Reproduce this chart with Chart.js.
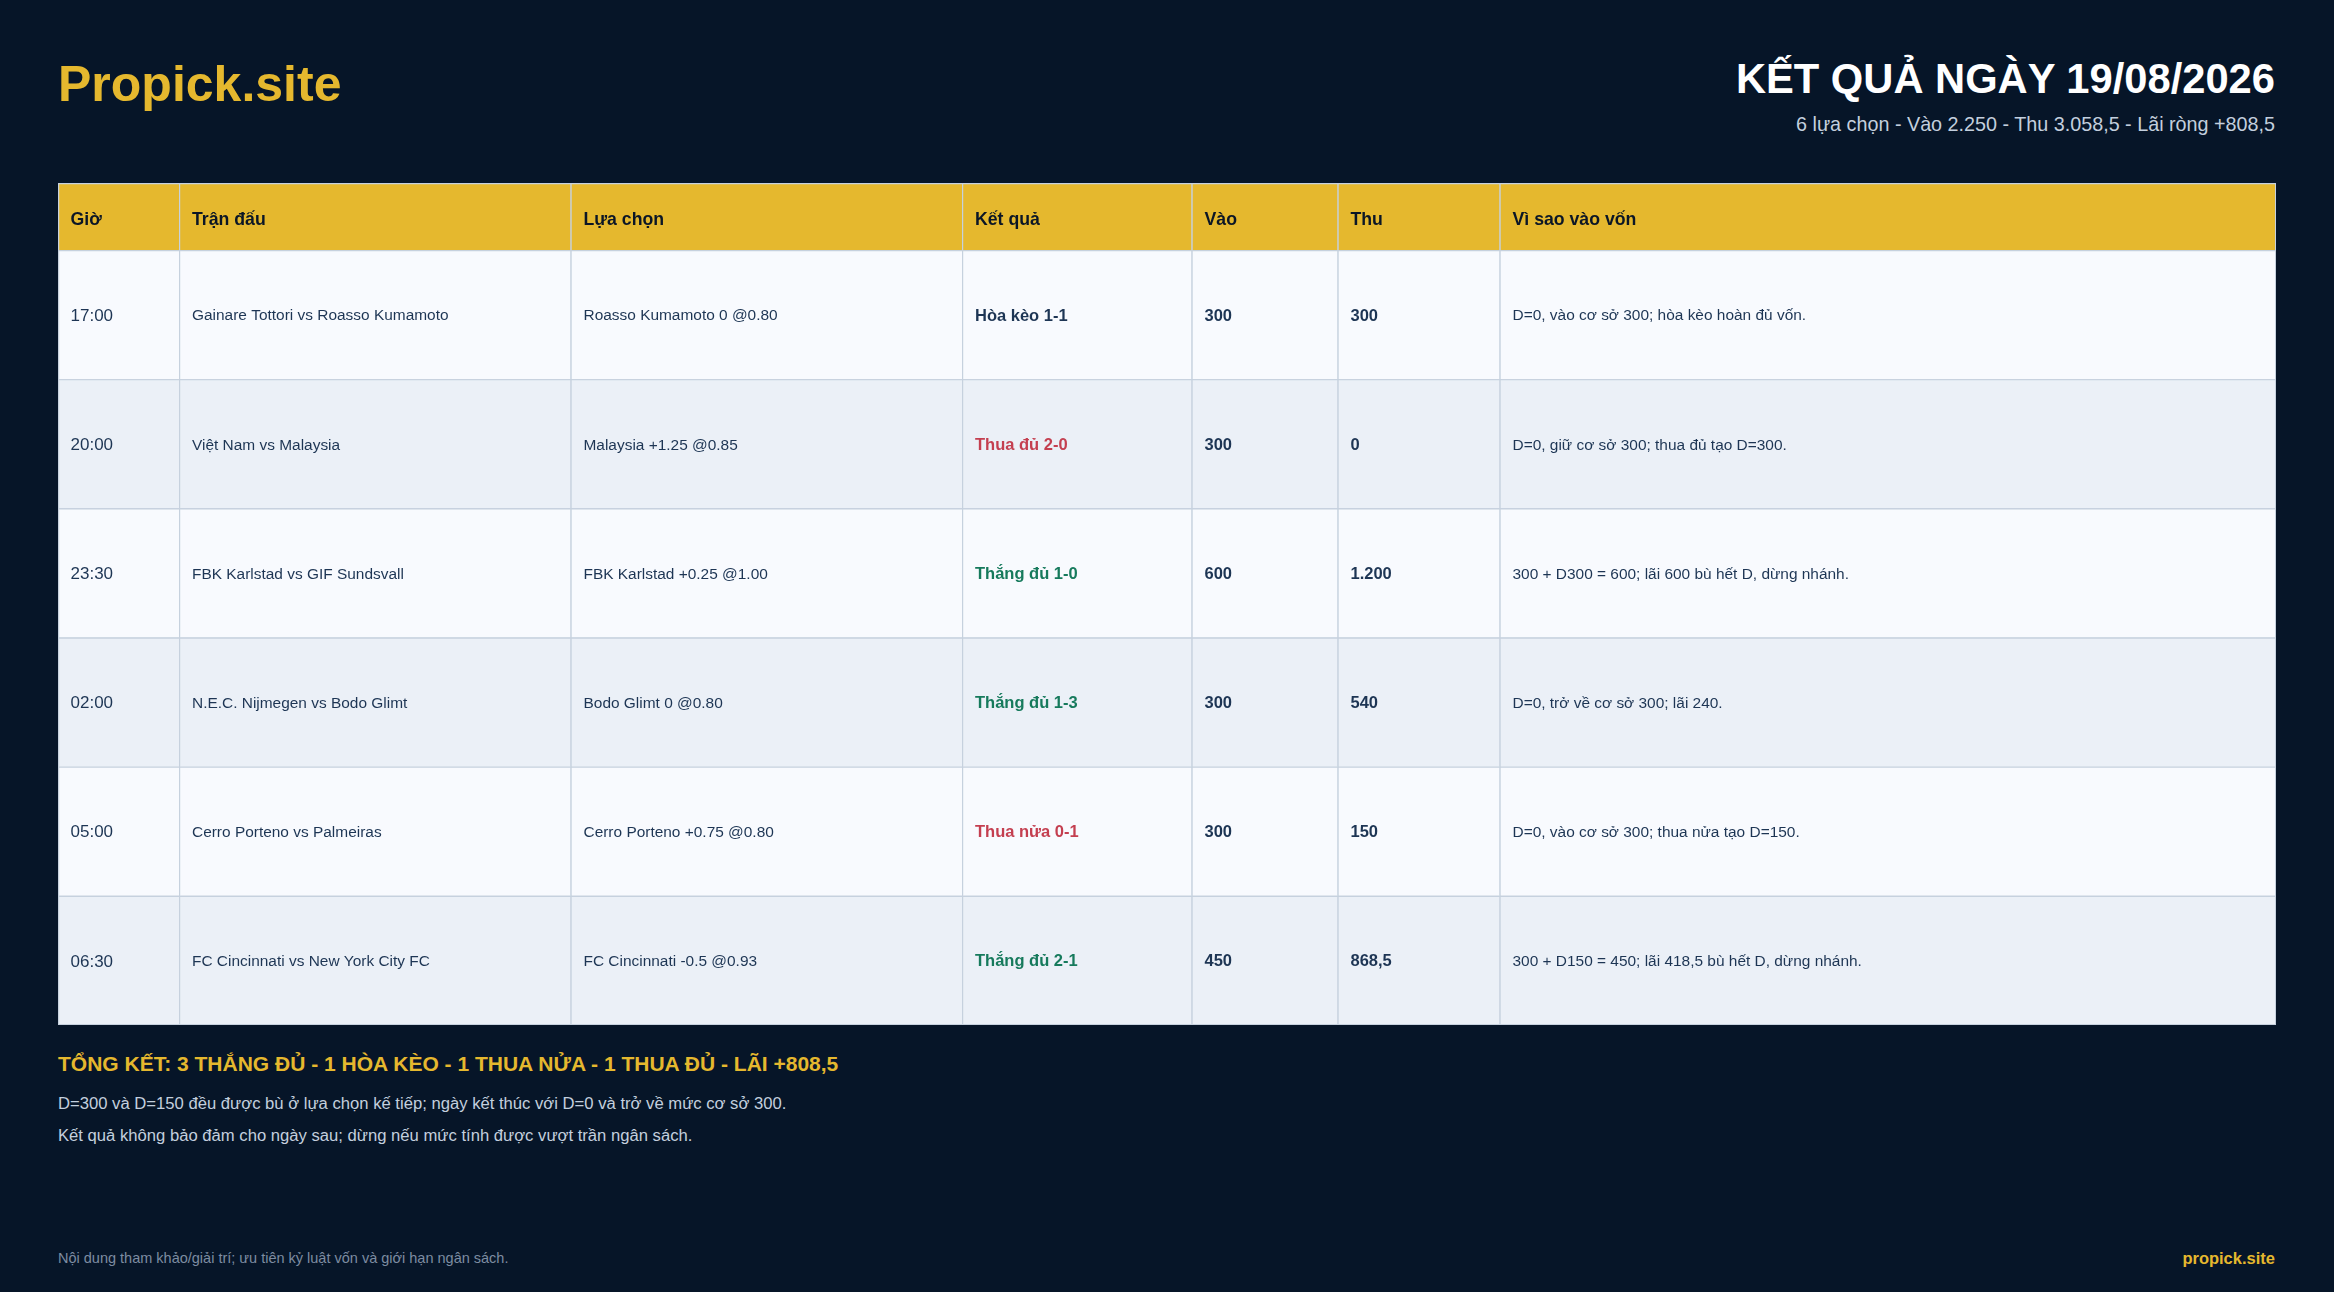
<!DOCTYPE html>
<html lang="vi">
<head>
<meta charset="utf-8">
<title>Propick.site</title>
<script src="https://cdn.jsdelivr.net/npm/chart.js@4"></script>
<style>
html,body{margin:0;padding:0;background:#061528;width:2334px;height:1292px;overflow:hidden;font-family:"Liberation Sans",Arial,sans-serif}
.t{position:absolute;white-space:nowrap;line-height:60px;height:60px}
.box{position:absolute;left:58px;width:2218px;background:#c6d1de}
canvas{position:absolute;display:block}
</style>
</head>
<body>
<div class="t" id="brand" style="left:58px;top:54px;font-size:50px;font-weight:700;color:#e5b82e"></div>
<div class="t" id="title" style="right:59px;top:49px;font-size:41.7px;font-weight:700;color:#fff"></div>
<div class="t" id="sub" style="right:59px;top:94px;font-size:19.75px;color:#c3cfde"></div>
<div class="box" style="top:183px;height:67px"><canvas id="head"></canvas></div>
<div class="box" style="top:250px;height:775px"><canvas id="body"></canvas></div>
<div class="t" id="sum" style="left:58px;top:1034px;font-size:21px;font-weight:700;color:#e5b82e"></div>
<div class="t" id="line1" style="left:58px;top:1074px;font-size:16.65px;color:#c3cfde"></div>
<div class="t" id="line2" style="left:58px;top:1106px;font-size:16.65px;color:#c3cfde"></div>
<div class="t" id="foot" style="left:58px;top:1228px;font-size:14.5px;color:#7d8ca1"></div>
<div class="t" id="site" style="right:59px;top:1228px;font-size:16.5px;font-weight:700;color:#e5b82e"></div>
<script>
// Table content
const headers=["Giờ","Trận đấu","Lựa chọn","Kết quả","Vào","Thu","Vì sao vào vốn"];
const times=["17:00","20:00","23:30","02:00","05:00","06:30"];
const matches=["Gainare Tottori vs Roasso Kumamoto","Việt Nam vs Malaysia","FBK Karlstad vs GIF Sundsvall","N.E.C. Nijmegen vs Bodo Glimt","Cerro Porteno vs Palmeiras","FC Cincinnati vs New York City FC"];
const picks=["Roasso Kumamoto 0 @0.80","Malaysia +1.25 @0.85","FBK Karlstad +0.25 @1.00","Bodo Glimt 0 @0.80","Cerro Porteno +0.75 @0.80","FC Cincinnati -0.5 @0.93"];
const results=["Hòa kèo 1-1","Thua đủ 2-0","Thắng đủ 1-0","Thắng đủ 1-3","Thua nửa 0-1","Thắng đủ 2-1"];
const stakes=[300,300,600,300,300,450];
const returns=[300,0,1200,540,150,868.5];
const reasons=["D=0, vào cơ sở 300; hòa kèo hoàn đủ vốn.","D=0, giữ cơ sở 300; thua đủ tạo D=300.","300 + D300 = 600; lãi 600 bù hết D, dừng nhánh.","D=0, trở về cơ sở 300; lãi 240.","D=0, vào cơ sở 300; thua nửa tạo D=150.","300 + D150 = 450; lãi 418,5 bù hết D, dừng nhánh."];

// Page text
document.getElementById("brand").textContent="Propick.site";
document.getElementById("title").textContent="KẾT QUẢ NGÀY 19/08/2026";
document.getElementById("sub").textContent="6 lựa chọn - Vào 2.250 - Thu 3.058,5 - Lãi ròng +808,5";
document.getElementById("sum").textContent="TỔNG KẾT: 3 THẮNG ĐỦ - 1 HÒA KÈO - 1 THUA NỬA - 1 THUA ĐỦ - LÃI +808,5";
document.getElementById("line1").textContent="D=300 và D=150 đều được bù ở lựa chọn kế tiếp; ngày kết thúc với D=0 và trở về mức cơ sở 300.";
document.getElementById("line2").textContent="Kết quả không bảo đảm cho ngày sau; dừng nếu mức tính được vượt trần ngân sách.";
document.getElementById("foot").textContent="Nội dung tham khảo/giải trí; ưu tiên kỷ luật vốn và giới hạn ngân sách.";
document.getElementById("site").textContent="propick.site";

// Layout of the columns, in table units
const columnWidths=[121,391.5,391.5,229.5,146,162,776.5];
const tableWidth=columnWidths.reduce((a,b)=>a+b,0);
const cellPad=13;
const lineWidth=1.2;
const FONT='"Liberation Sans",Arial,sans-serif';
const INK="#1d3554";

function num(v){return v.toLocaleString("vi-VN");}
function resultColor(s){
if(s.startsWith("Thắng")) return "#167a5c";
if(s.startsWith("Thua")) return "#c43f50";
return INK;
}

// Writes the text of every cell, placed through the chart's scales
const cellText={
id:"cellText",
afterDatasetsDraw(chart,args,opts){
const {ctx,scales:{x,y}}=chart;
ctx.save();
ctx.textBaseline="middle";
ctx.textAlign="left";
opts.rows.forEach((row,r)=>{
let start=0;
row.forEach((cell,c)=>{
ctx.font=opts.fonts[c];
ctx.fillStyle=typeof opts.colors[c]=="function"?opts.colors[c](cell):opts.colors[c];
const pad=c==0?cellPad-0.5:cellPad;
ctx.fillText(cell,x.getPixelForValue(start)+pad,y.getPixelForValue(r)+opts.dy);
start+=columnWidths[c];
});
});
ctx.restore();
}
};

function makeTable(id,labels,fills,rows,fonts,colors,dy,closeBottom){
new Chart(document.getElementById(id),{
type:"bar",
plugins:[cellText],
data:{
labels:labels,
datasets:columnWidths.map((w,c)=>({
data:labels.map(()=>w),
backgroundColor:fills,
borderColor:"#c6d1de",
// only left and top, so neighbouring cells do not double the line
borderWidth:ctx=>({left:lineWidth,top:lineWidth,right:c==columnWidths.length-1?1:0,bottom:closeBottom&&ctx.dataIndex==labels.length-1?1:0}),
inflateAmount:0,
barPercentage:1,
categoryPercentage:1,
borderSkipped:false
}))
},
options:{
indexAxis:"y",
responsive:true,
maintainAspectRatio:false,
animation:false,
events:[],
layout:{padding:0},
scales:{
x:{stacked:true,min:0,max:tableWidth,display:false},
y:{stacked:true,display:false}
},
plugins:{
legend:{display:false},
tooltip:{enabled:false},
cellText:{rows,fonts,colors,dy}
}
}
});
}

// Header row
makeTable("head",["header"],["#e5b82e"],[headers],
headers.map(()=>`bold 17.7px ${FONT}`),headers.map(()=>"#0b1626"),3.5,false);

// Body rows
const rows=times.map((t,i)=>[t,matches[i],picks[i],results[i],num(stakes[i]),num(returns[i]),reasons[i]]);
makeTable("body",times,times.map((t,i)=>i%2?"#ebf0f7":"#f8fafe"),rows,
[`17px ${FONT}`,`15.45px ${FONT}`,`15.45px ${FONT}`,`bold 16.5px ${FONT}`,`bold 16.5px ${FONT}`,`bold 16.5px ${FONT}`,`15.45px ${FONT}`],
[INK,INK,INK,resultColor,INK,INK,INK],1.5,true);
</script>
</body>
</html>
